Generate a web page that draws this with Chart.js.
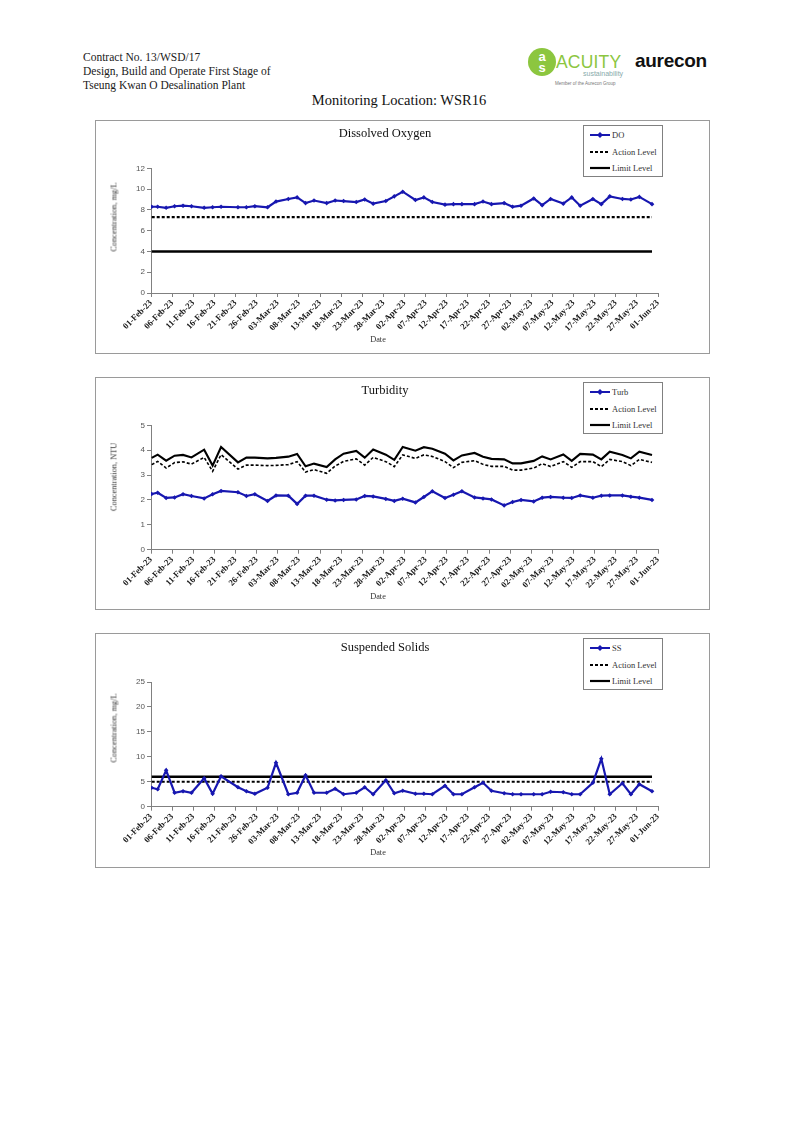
<!DOCTYPE html>
<html><head><meta charset="utf-8">
<script src="https://cdn.jsdelivr.net/npm/chart.js@4.4.0/dist/chart.umd.min.js"></script>
<style>
body{margin:0;background:#fff;width:794px;height:1122px;position:relative;font-family:'Liberation Serif',serif;color:#222;overflow:hidden}
.abs{position:absolute}
.hdr{left:83px;top:50px;font-size:11.5px;line-height:14px;color:#1a1a1a}
.loc{left:2px;width:794px;text-align:center;top:92px;font-size:14.5px;color:#111}
.frame{position:absolute;left:95px;width:615px;border:1px solid #9a9a9a;box-sizing:border-box}
canvas.c{position:absolute}
.ctitle{position:absolute;font-size:12.5px;transform:translate(-50%,-50%);white-space:nowrap;color:#111}
.ytitle{position:absolute;font-size:8.3px;transform:translate(-50%,-50%) rotate(-90deg);white-space:nowrap;color:#333}
.xtitle{position:absolute;font-size:8.3px;transform:translate(-50%,-50%);white-space:nowrap;color:#333}
.legend{position:absolute;border:1px solid #808080;background:#fff;box-sizing:border-box;width:80px;height:52px}
.lrow{position:absolute;left:6px;height:12px;font-size:8.5px;line-height:12px;color:#333;white-space:nowrap}
.lrow svg{position:absolute;left:0;top:1px}
.lrow span{position:absolute;left:22px;top:0}
</style></head><body>
<div class="abs hdr">Contract No. 13/WSD/17<br>Design, Build and Operate First Stage of<br>Tseung Kwan O Desalination Plant</div>
<div class="abs" style="left:528px;top:48px;width:28px;height:28px;border-radius:50%;background:#8cc63f;color:#fff;font-family:'Liberation Sans';font-weight:bold;font-size:13px;line-height:11px;text-align:center;padding-top:3px;box-sizing:border-box">a<br>s<br><span style="font-size:10px">c</span></div>
<div class="abs" style="left:556px;top:52px;font-family:'Liberation Sans';font-size:17.5px;color:#8cc63f;letter-spacing:0.2px">ACUITY</div>
<div class="abs" style="left:583px;top:70px;font-family:'Liberation Sans';font-size:7px;color:#8aa;">sustainability</div>
<div class="abs" style="left:555px;top:81px;font-family:'Liberation Sans';font-size:4.5px;color:#777;">Member of the Aurecon Group</div>
<div class="abs" style="left:635px;top:50px;font-family:'Liberation Sans';font-weight:bold;font-size:19px;color:#111;letter-spacing:-0.3px">aurecon</div>
<div class="abs loc">Monitoring Location: WSR16</div>

<div id="frames"></div>

<script>
// ---------- data ----------
const axisStart = '2023-02-01T00:00';
const axisEnd = '2023-06-01T00:00';
const xTickLabels = ['01-Feb-23','06-Feb-23','11-Feb-23','16-Feb-23','21-Feb-23','26-Feb-23','03-Mar-23','08-Mar-23','13-Mar-23','18-Mar-23','23-Mar-23','28-Mar-23','02-Apr-23','07-Apr-23','12-Apr-23','17-Apr-23','22-Apr-23','27-Apr-23','02-May-23','07-May-23','12-May-23','17-May-23','22-May-23','27-May-23','01-Jun-23'];
const sampleDates = [
 '2023-02-01T04:00','2023-02-02T14:00','2023-02-04T14:00','2023-02-06T14:00','2023-02-08T14:00','2023-02-10T14:00','2023-02-13T14:00','2023-02-15T14:00','2023-02-17T14:00','2023-02-21T14:00','2023-02-23T14:00','2023-02-25T14:00','2023-02-28T14:00',
 '2023-03-02T14:00','2023-03-05T12:00','2023-03-07T14:00','2023-03-09T14:00','2023-03-11T14:00','2023-03-14T14:00','2023-03-16T14:00','2023-03-18T14:00','2023-03-21T14:00','2023-03-23T14:00','2023-03-25T14:00','2023-03-28T14:00','2023-03-30T14:00',
 '2023-04-01T14:00','2023-04-04T14:00','2023-04-06T14:00','2023-04-08T14:00','2023-04-11T14:00','2023-04-13T14:00','2023-04-15T14:00','2023-04-18T14:00','2023-04-20T14:00','2023-04-22T14:00','2023-04-25T14:00','2023-04-27T14:00','2023-04-29T14:00',
 '2023-05-02T14:00','2023-05-04T14:00','2023-05-06T14:00','2023-05-09T14:00','2023-05-11T14:00','2023-05-13T14:00','2023-05-16T14:00','2023-05-18T14:00','2023-05-20T14:00','2023-05-23T14:00','2023-05-25T14:00','2023-05-27T14:00','2023-05-30T14:00'];

const doValues = [8.3,8.3,8.2,8.35,8.4,8.35,8.2,8.25,8.3,8.25,8.25,8.35,8.25,8.8,9.05,9.2,8.65,8.9,8.65,8.9,8.85,8.75,9.0,8.6,8.85,9.3,9.75,8.95,9.2,8.75,8.5,8.55,8.55,8.55,8.8,8.55,8.65,8.3,8.4,9.1,8.45,9.05,8.6,9.2,8.4,9.05,8.55,9.3,9.05,9.0,9.25,8.55];
const doActionLevel = 7.3;
const doLimitLevel = 4.0;

const turbValues = [2.24,2.29,2.08,2.10,2.23,2.16,2.06,2.23,2.36,2.31,2.16,2.23,1.96,2.18,2.17,1.84,2.17,2.17,2.01,1.98,2.00,2.02,2.16,2.14,2.04,1.96,2.05,1.90,2.12,2.35,2.08,2.21,2.35,2.10,2.06,2.02,1.78,1.92,2.00,1.94,2.09,2.12,2.09,2.08,2.18,2.09,2.17,2.18,2.18,2.13,2.09,2.00];
const turbAction = [3.42,3.55,3.28,3.50,3.53,3.44,3.71,3.15,3.82,3.24,3.40,3.40,3.38,3.39,3.42,3.54,3.12,3.22,3.07,3.36,3.55,3.65,3.40,3.71,3.54,3.34,3.81,3.67,3.81,3.75,3.54,3.30,3.51,3.58,3.43,3.35,3.35,3.20,3.20,3.28,3.46,3.34,3.54,3.31,3.54,3.54,3.34,3.63,3.54,3.38,3.63,3.51];
const turbLimit = [3.69,3.82,3.58,3.78,3.81,3.71,4.02,3.38,4.13,3.51,3.70,3.70,3.67,3.69,3.74,3.85,3.35,3.46,3.32,3.63,3.86,3.97,3.70,4.03,3.82,3.61,4.13,3.98,4.12,4.06,3.86,3.59,3.79,3.89,3.74,3.65,3.63,3.47,3.47,3.57,3.75,3.63,3.83,3.57,3.85,3.82,3.63,3.94,3.81,3.67,3.94,3.81];

const ssValues = [3.8,3.5,7.3,2.8,3.1,2.8,5.7,2.6,6.1,3.9,3.1,2.6,3.8,8.8,2.5,2.8,6.3,2.8,2.8,3.6,2.5,2.8,3.9,2.5,5.3,2.7,3.2,2.6,2.6,2.5,4.2,2.5,2.5,3.9,4.8,3.2,2.7,2.5,2.5,2.5,2.5,3.0,2.9,2.5,2.5,4.8,9.6,2.5,4.7,2.5,4.5,3.1];
const ssActionLevel = 5;
const ssLimitLevel = 6;

const doYTicks = [0,12,2];
const turbYTicks = [0,5,1];
const ssYTicks = [0,25,5];
// ---------- end data ----------

const DAY = 86400000;
const t0 = Date.parse(axisStart);
const dayOf = d => (Date.parse(d) - t0) / DAY;
const spanDays = dayOf(axisEnd);
const tickStep = spanDays / (xTickLabels.length - 1);
const BLUE = '#1717b0';

const PLOT_L = 151, PLOT_R = 658, FRAME_L = 95, FRAME_W = 615;

function pts(vals){ return sampleDates.map((d,i)=>({x:dayOf(d), y: Array.isArray(vals)? vals[i] : vals})); }

function legendSvg(kind){
  if(kind==='series') return '<svg width="20" height="10"><line x1="0" y1="5" x2="20" y2="5" stroke="'+BLUE+'" stroke-width="2"/><polygon points="10,2 13,5 10,8 7,5" fill="'+BLUE+'"/></svg>';
  if(kind==='dash') return '<svg width="20" height="10"><line x1="0" y1="5" x2="20" y2="5" stroke="#000" stroke-width="2" stroke-dasharray="3,2"/></svg>';
  return '<svg width="20" height="10"><line x1="0" y1="5" x2="20" y2="5" stroke="#000" stroke-width="2.2"/></svg>';
}

function build(cfg){
  const f = document.createElement('div');
  f.className='frame';
  f.style.top = cfg.frameTop+'px';
  f.style.height = (cfg.frameBottom - cfg.frameTop)+'px';
  document.body.appendChild(f);
  const cTop = cfg.frameTop+1, cLeft = FRAME_L+1;
  const W = FRAME_L+FRAME_W-1-cLeft, H = cfg.frameBottom - 1 - cTop;
  const cv = document.createElement('canvas');
  cv.className='c'; cv.width=W; cv.height=H;
  cv.style.left=cLeft+'px'; cv.style.top=cTop+'px';
  document.body.appendChild(cv);

  const t = document.createElement('div'); t.className='ctitle'; t.textContent=cfg.title;
  t.style.left='385px'; t.style.top=cfg.titleY+'px'; document.body.appendChild(t);
  const yt = document.createElement('div'); yt.className='ytitle'; yt.textContent=cfg.yTitle;
  yt.style.left='114px'; yt.style.top=cfg.yTitleY+'px'; document.body.appendChild(yt);
  const xt = document.createElement('div'); xt.className='xtitle'; xt.textContent='Date';
  xt.style.left='378px'; xt.style.top=cfg.xTitleY+'px'; document.body.appendChild(xt);

  const lg = document.createElement('div'); lg.className='legend';
  lg.style.left='583px'; lg.style.top=(cfg.frameTop+5)+'px';
  const rows=[[cfg.seriesName,'series'],['Action Level','dash'],['Limit Level','solid']];
  rows.forEach((r,i)=>{
    const d=document.createElement('div'); d.className='lrow'; d.style.top=(3+i*16.5)+'px';
    d.innerHTML=legendSvg(r[1])+'<span>'+r[0]+'</span>'; lg.appendChild(d);
  });
  document.body.appendChild(lg);

  const [ymin,ymax,ystep]=cfg.yTicks;
  new Chart(cv,{
    type:'line',
    data:{datasets:[
      {label:cfg.seriesName,data:pts(cfg.values),borderColor:BLUE,backgroundColor:BLUE,borderWidth:2.2,pointStyle:'rectRot',pointRadius:2.3,pointBorderWidth:0,tension:0,order:0},
      {label:'Action Level',data:pts(cfg.action),borderColor:'#000',borderWidth:cfg.dashW,borderDash:[3,2],pointRadius:0,tension:0,order:2},
      {label:'Limit Level',data:pts(cfg.limit),borderColor:'#000',borderWidth:cfg.limW,pointRadius:0,tension:0,order:1}
    ]},
    options:{
      responsive:false,animation:false,devicePixelRatio:1,
      layout:{padding:{top:cfg.plotTop-cTop,left:0,right:(cLeft+W)-PLOT_R,bottom:0}},
      plugins:{legend:{display:false},title:{display:false},tooltip:{enabled:false}},
      scales:{
        x:{type:'linear',min:0,max:spanDays,
          afterFit:s=>{s.height=(cTop+H)-cfg.plotBottom;},
          afterBuildTicks:s=>{s.ticks=xTickLabels.map((l,i)=>({value:i*tickStep}));},
          ticks:{autoSkip:false,minRotation:45,maxRotation:45,padding:1,color:'#1a1a1a',
            font:{family:'Liberation Serif',size:8.7,weight:'bold'},
            callback:(v,i)=>xTickLabels[i]},
          grid:{display:true,drawOnChartArea:false,drawTicks:true,tickLength:4,color:'#808080',lineWidth:1},
          border:{display:true,color:'#808080',width:1}},
        y:{type:'linear',min:ymin,max:ymax,
          afterFit:s=>{s.width=PLOT_L-cLeft;},
          ticks:{stepSize:ystep,padding:2,color:'#555',font:{family:'Liberation Sans',size:8}},
          grid:{display:true,drawOnChartArea:false,drawTicks:true,tickLength:4,color:'#808080',lineWidth:1},
          border:{display:true,color:'#808080',width:1}}
      }
    }
  });
}

build({title:'Dissolved Oxygen',seriesName:'DO',yTitle:'Concentration, mg/L',frameTop:120,frameBottom:354,plotTop:168.3,plotBottom:293,titleY:133,yTitleY:217,xTitleY:339,
  values:doValues,action:doActionLevel,limit:doLimitLevel,yTicks:doYTicks,dashW:2.2,limW:2.4});
build({title:'Turbidity',seriesName:'Turb',yTitle:'Concentration, NTU',frameTop:377,frameBottom:610,plotTop:425.3,plotBottom:549.7,titleY:390,yTitleY:477,xTitleY:596,
  values:turbValues,action:turbAction,limit:turbLimit,yTicks:turbYTicks,dashW:1.6,limW:2.1});
build({title:'Suspended Solids',seriesName:'SS',yTitle:'Concentration, mg/L',frameTop:633,frameBottom:868,plotTop:682,plotBottom:806.7,titleY:647,yTitleY:728,xTitleY:852,
  values:ssValues,action:ssActionLevel,limit:ssLimitLevel,yTicks:ssYTicks,dashW:2.0,limW:2.4});
</script>
</body></html>
